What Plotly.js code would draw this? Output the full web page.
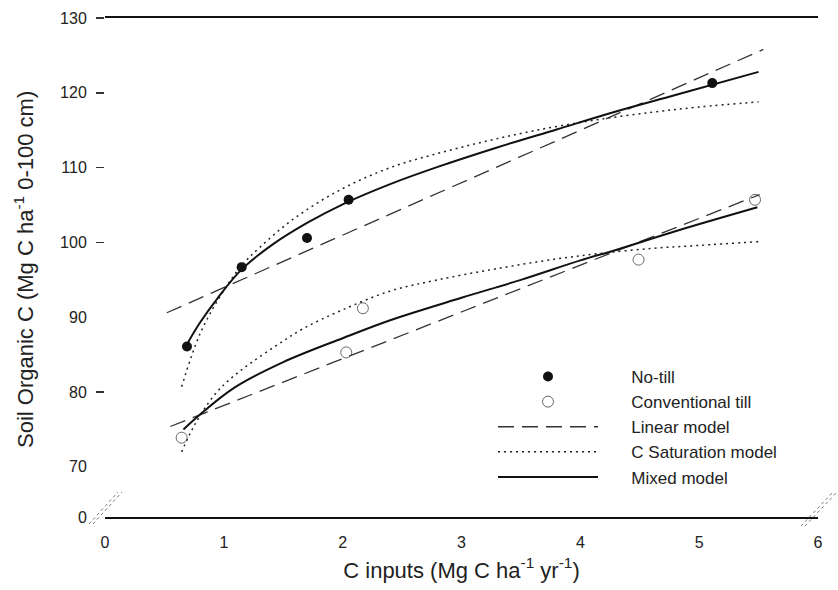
<!DOCTYPE html>
<html>
<head>
<meta charset="utf-8">
<script src="https://cdn.plot.ly/plotly-3.0.1.min.js"></script>
<style>html,body{margin:0;padding:0;background:#fff;}#chart{width:838px;height:590px;}</style>
</head>
<body>
<div id="chart"></div>
<script>
// Observed data points
var ntX = [0.69, 1.15, 1.70, 2.05, 5.11];
var ntY = [86.1, 96.7, 100.6, 105.7, 121.3];
var ctX = [0.645, 2.03, 2.17, 4.49, 5.47];
var ctY = [73.9, 85.3, 91.2, 97.7, 105.7];

// Linear model (read endpoints)
var ntLinX = [0.52, 5.54];
var ntLinY = [90.6, 125.8];
var ctLinX = [0.55, 5.51];
var ctLinY = [75.4, 106.4];

// C saturation model
var ntSatX = [0.645, 0.8, 1.0, 1.15, 1.3, 1.6, 2.0, 2.4, 2.8, 3.2, 3.6, 4.1, 4.6, 5.0, 5.5];
var ntSatY = [80.7, 87.8, 93.6, 96.9, 99.3, 103.3, 107.2, 110.0, 111.9, 113.5, 114.9, 116.3, 117.4, 118.1, 118.8];
var ctSatX = [0.645, 0.75, 0.91, 1.05, 1.22, 1.45, 1.67, 2.0, 2.4, 2.8, 3.3, 3.8, 4.15, 4.6, 5.0, 5.5];
var ctSatY = [72.0, 75.5, 79.4, 81.7, 83.8, 86.3, 88.5, 91.0, 93.5, 95.0, 96.5, 97.8, 98.5, 99.2, 99.6, 100.1];

// Mixed model
var ntMixX = [0.69, 0.8, 0.95, 1.15, 1.4, 1.7, 2.0, 2.4, 2.8, 3.3, 3.8, 4.3, 4.8, 5.5];
var ntMixY = [86.4, 89.3, 92.6, 96.4, 99.6, 102.6, 105.1, 107.8, 110.1, 112.7, 115.1, 117.5, 119.7, 122.8];
var ctMixX = [0.66, 0.8, 1.08, 1.5, 2.0, 2.4, 3.0, 3.5, 4.0, 4.3, 4.8, 5.49];
var ctMixY = [75.0, 77.0, 80.5, 84.0, 87.2, 89.6, 92.6, 95.0, 97.6, 99.0, 101.5, 104.7];

// Axis ticks (bottom tick is the broken-axis "0")
var yTickVals = [63.3, 70, 80, 90, 100, 110, 120, 130];
var yTickText = ['0', '70', '80', '90', '100', '110', '120', '130'];
var yMarkVals = [80, 100, 110, 120, 130];
var xTickVals = [0, 1, 2, 3, 4, 5, 6];

// Legend labels and axis titles
var legNames = ['No-till', 'Conventional till', 'Linear model', 'C Saturation model', 'Mixed model'];
var xTitle = 'C inputs (Mg C ha<sup>-1</sup> yr<sup>-1</sup>)';
var yTitle = 'Soil Organic C (Mg C ha<sup>-1</sup> 0-100 cm)';

var FONT = 'Liberation Sans, Arial, sans-serif';
var dashLin = '16px,8px';
var dotSat = '2px,4px';
var PAD = '\u00A0\u00A0\u00A0\u00A0\u00A0\u00A0';

var traces = [
  {x: ntX, y: ntY, mode: 'markers', name: PAD + legNames[0],
   marker: {symbol: 'circle', size: 10, color: '#111', line: {width: 0}}},
  {x: ctX, y: ctY, mode: 'markers', name: PAD + legNames[1],
   marker: {symbol: 'circle-open', size: 11, color: '#666', line: {width: 1, color: '#666'}}},
  {x: ntLinX, y: ntLinY, mode: 'lines', name: PAD + legNames[2], legendgroup: 'lin',
   line: {color: '#333', width: 1.3, dash: dashLin}},
  {x: ctLinX, y: ctLinY, mode: 'lines', name: PAD + legNames[2], legendgroup: 'lin', showlegend: false,
   line: {color: '#333', width: 1.3, dash: dashLin}},
  {x: ntSatX, y: ntSatY, mode: 'lines', name: PAD + legNames[3], legendgroup: 'sat',
   line: {color: '#222', width: 1.5, dash: dotSat, shape: 'spline'}},
  {x: ctSatX, y: ctSatY, mode: 'lines', name: PAD + legNames[3], legendgroup: 'sat', showlegend: false,
   line: {color: '#222', width: 1.5, dash: dotSat, shape: 'spline'}},
  {x: ntMixX, y: ntMixY, mode: 'lines', name: PAD + legNames[4], legendgroup: 'mix',
   line: {color: '#111', width: 2, shape: 'spline'}},
  {x: ctMixX, y: ctMixY, mode: 'lines', name: PAD + legNames[4], legendgroup: 'mix', showlegend: false,
   line: {color: '#111', width: 2, shape: 'spline'}}
];

function px2paperX(p) { return (p - 105) / 713; }
function px2paperY(p) { return (517 - p) / 499; }
function brk(x0, y0, x1, y1) {
  return {type: 'line', xref: 'paper', yref: 'paper',
    x0: px2paperX(x0), y0: px2paperY(y0), x1: px2paperX(x1), y1: px2paperY(y1),
    line: {color: '#777', width: 1, dash: 'dot'}};
}

var layout = {
  width: 838, height: 590,
  margin: {l: 105, r: 20, t: 18, b: 73},
  paper_bgcolor: '#fff', plot_bgcolor: '#fff',
  font: {family: FONT, color: '#222', size: 16},
  showlegend: true,
  legend: {x: px2paperX(493), y: px2paperY(359), xanchor: 'left', yanchor: 'top',
    font: {family: FONT, size: 17, color: '#222'}, itemwidth: 100,
    bgcolor: 'rgba(0,0,0,0)', traceorder: 'normal', itemclick: false},
  xaxis: {range: [0, 6], tickvals: xTickVals, showgrid: false, zeroline: false,
    showline: true, linecolor: '#111', linewidth: 2, mirror: true,
    ticks: 'outside', ticklen: 10, tickcolor: 'rgba(0,0,0,0)',
    tickfont: {family: FONT, size: 16, color: '#222'},
    title: {text: xTitle, font: {family: FONT, size: 22, color: '#222'}, standoff: 12}},
  yaxis: {range: [63.3, 130], tickvals: yTickVals, ticktext: yTickText, showgrid: false, zeroline: false,
    showline: false, ticks: 'outside', ticklen: 14, tickcolor: 'rgba(0,0,0,0)',
    tickfont: {family: FONT, size: 16, color: '#222'}},
  yaxis2: {range: [63.3, 130], overlaying: 'y', side: 'left', anchor: 'x', tickvals: yMarkVals,
    showticklabels: false, showgrid: false, zeroline: false, showline: false,
    ticks: 'outside', ticklen: 8, tickwidth: 1.5, tickcolor: '#333'},
  annotations: [
    {text: yTitle, textangle: -90, xref: 'paper', yref: 'paper',
     x: px2paperX(24), y: px2paperY(270), xanchor: 'center', yanchor: 'middle',
     showarrow: false, font: {family: FONT, size: 22, color: '#222'}}
  ],
  shapes: [
    brk(89, 524, 118, 492), brk(93, 524, 122, 492),
    brk(801, 526, 833, 492), brk(805, 526, 837, 492)
  ]
};

// dummy trace to activate yaxis2 (no visible mark)
traces.push({x: [], y: [], yaxis: 'y2', showlegend: false, hoverinfo: 'skip'});

Plotly.newPlot('chart', traces, layout, {staticPlot: true});
</script>
</body>
</html>
